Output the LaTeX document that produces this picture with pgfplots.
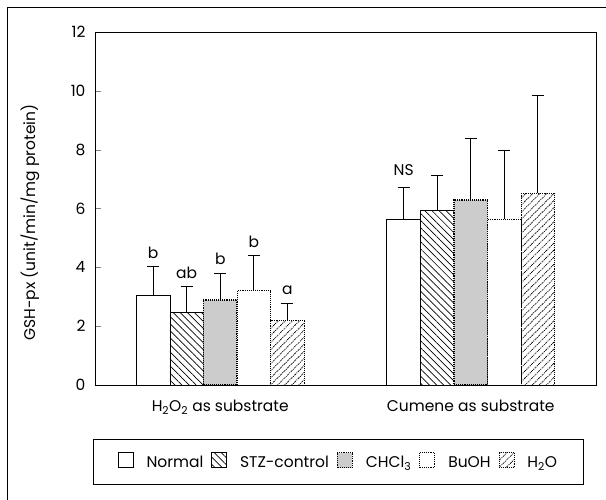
\documentclass[border=0pt]{standalone}
\usepackage{fontspec}
\setmainfont{Poppins}
\usepackage{pgfplots}
\pgfplotsset{compat=1.18}
\usetikzlibrary{patterns,patterns.meta}
\begin{document}
\begin{tikzpicture}
\useasboundingbox (-95pt,-115pt) rectangle (511pt,385pt);
\draw[line width=0.8pt] (-88pt,-115pt) -- (-88pt,378pt) -- (511pt,378pt);
\begin{axis}[
  at={(0,0)}, anchor=south west,
  scale only axis, width=501pt, height=353pt,
  font=\fontsize{15.5}{18}\selectfont,
  /pgf/number format/assume math mode=true,
  xmin=-0.5, xmax=1.5, ymin=0, ymax=12,
  ytick={0,2,...,12}, ytick pos=left, tick align=inside, major tick length=6pt,
  xtick={0,1}, xticklabels={H\textsubscript{2}O\textsubscript{2} as substrate, Cumene as substrate},
  xtick style={draw=none},
  xticklabel style={yshift=-5pt},
  yticklabel style={xshift=-6pt},
  axis line style={line width=0.8pt},
  ylabel={GSH-px (unit/min/mg protein)},
  ylabel style={at={(axis description cs:-0.13,0.46)}, anchor=center},
  ybar, bar width=0.134, bar shift=0pt,
  error bars/y dir=plus, error bars/y explicit,
  error bars/error bar style={line width=0.8pt, black, solid},
  error bars/error mark options={line width=0.8pt, mark size=6pt, black, solid, rotate=90},
  legend style={at={(0.486,-0.152)}, anchor=north, legend columns=-1, draw=black, line width=0.8pt,
    inner xsep=24pt, inner ysep=13pt,
    /tikz/every even column/.append style={column sep=6pt},
    /tikz/every odd column/.append style={column sep=11pt}},
  legend image code/.code={\draw[#1] (0pt,-5pt) rectangle (15pt,10pt);},
]
\addplot[draw=black, line width=0.7pt, fill=white] coordinates {(-0.268,3.06) +- (0,0.96) (0.732,5.64) +- (0,1.07)};
\addlegendentry{Normal}
\addplot[draw=black, line width=0.7pt, pattern={Lines[angle=-45,distance=5pt,line width=0.7pt]}] coordinates {(-0.134,2.47) +- (0,0.87) (0.866,5.93) +- (0,1.21)};
\addlegendentry{STZ-control}
\addplot[draw=black, line width=1.1pt, densely dotted, fill=gray!40] coordinates {(0,2.89) +- (0,0.91) (1,6.29) +- (0,2.10)};
\addlegendentry{CHCl\textsubscript{3}}
\addplot[draw=black, line width=0.9pt, densely dotted, fill=white] coordinates {(0.134,3.2) +- (0,1.19) (1.134,5.64) +- (0,2.32)};
\addlegendentry{BuOH}
\addplot[draw=black, line width=0.9pt, densely dotted, pattern={Lines[angle=45,distance=5pt,line width=0.8pt]}] coordinates {(0.268,2.18) +- (0,0.59) (1.268,6.52) +- (0,3.34)};
\addlegendentry{H\textsubscript{2}O}
\node[anchor=south, yshift=5pt] at (axis cs:-0.268,4.02) {b};
\node[anchor=south, yshift=5pt] at (axis cs:-0.134,3.34) {ab};
\node[anchor=south, yshift=5pt] at (axis cs:0,3.80) {b};
\node[anchor=south, yshift=5pt] at (axis cs:0.134,4.39) {b};
\node[anchor=south, yshift=5pt] at (axis cs:0.268,2.77) {a};
\node[anchor=south, yshift=8pt] at (axis cs:0.732,6.71) {NS};
\end{axis}
\end{tikzpicture}
\end{document}
